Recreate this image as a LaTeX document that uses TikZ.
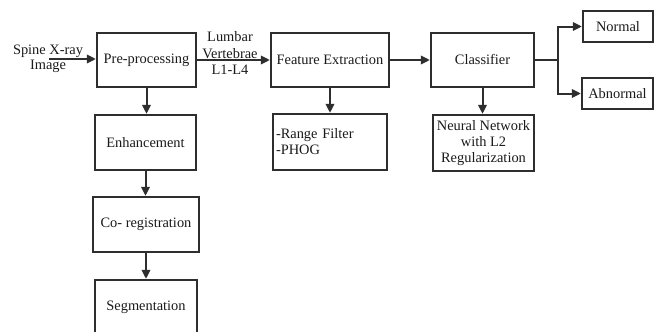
\documentclass[tikz,border=0pt]{standalone}
\usepackage{fontspec}
\setmainfont{Liberation Serif}
\usetikzlibrary{arrows.meta}
\definecolor{ink}{HTML}{1A1A1A}
\definecolor{edge}{HTML}{2E2E2E}
\begin{document}
\begin{tikzpicture}[x=1pt,y=-1pt,
  font=\fontsize{14.4}{16}\selectfont, text=ink,
  block/.style={draw=edge, line width=2.3pt, fill=white, inner sep=2pt, align=center},
  flow/.style={draw=edge, line width=2pt, -{Triangle[length=9pt,width=8.5pt]}},
  plain/.style={draw=edge, line width=2pt}]
\useasboundingbox (0,0) rectangle (657,332);
\clip (0,0) rectangle (657,332);

% main pipeline
\node[block, minimum width=99pt, minimum height=54pt] (pre)  at (146.5,60) {Pre-processing};
\node[block, minimum width=118pt, minimum height=54pt] (feat) at (330,60) {Feature Extraction};
\node[block, minimum width=103pt, minimum height=54pt] (cls)  at (482.5,60) {Classifier};

% outcomes
\node[block, minimum width=70pt, minimum height=31pt] (normal)   at (618,26.5) {Normal};
\node[block, minimum width=71pt, minimum height=31pt] (abnormal) at (617.5,93.5) {Abnormal};

% details under the main stages
\node[block, minimum width=101pt, minimum height=56pt] (nn) at (483.5,143)
  {Neural Network\\with L2\\Regularization};
\node[block, align=left, text width=108pt, inner xsep=3pt, minimum height=56pt] (rf) at (330,142)
  {-Range Filter\\-PHOG};

% pre-processing chain
\node[block, minimum width=101pt, minimum height=55pt] (enh)   at (145.5,142.5) {Enhancement};
\node[block, minimum width=106pt, minimum height=55pt] (coreg) at (146,224.5) {Co- registration};
\node[block, minimum width=102pt, minimum height=55pt] (seg)   at (146,307.5) {Segmentation};

% input and intermediate labels
\node[align=center, font=\fontsize{14.4}{15}\selectfont] (input) at (48,58.5) {Spine X-ray\\Image};
\node[align=center, font=\fontsize{14.4}{16.5}\selectfont] (lumbar) at (230,53.5) {Lumbar\\Vertebrae\\L1-L4};
\coordinate (src) at (49,59);

% connectors
\draw[flow] (src) -- (pre.west |- src);
\draw[flow] (pre.east) -- (feat.west);
\draw[flow] (feat.east) -- (cls.west);
\draw[plain] (cls.east) -- ++(23,0) coordinate (split);
\draw[flow] (split) |- (normal.west);
\draw[flow] (split) |- (abnormal.west);
\draw[flow] (cls.south) -- (cls.south |- nn.north);
\draw[flow] (feat.south) -- (rf.north);
\draw[flow] (pre.south) -- (pre.south |- enh.north);
\draw[flow] (enh.south) -- (enh.south |- coreg.north);
\draw[flow] (coreg.south) -- (coreg.south |- seg.north);
\end{tikzpicture}
\end{document}
